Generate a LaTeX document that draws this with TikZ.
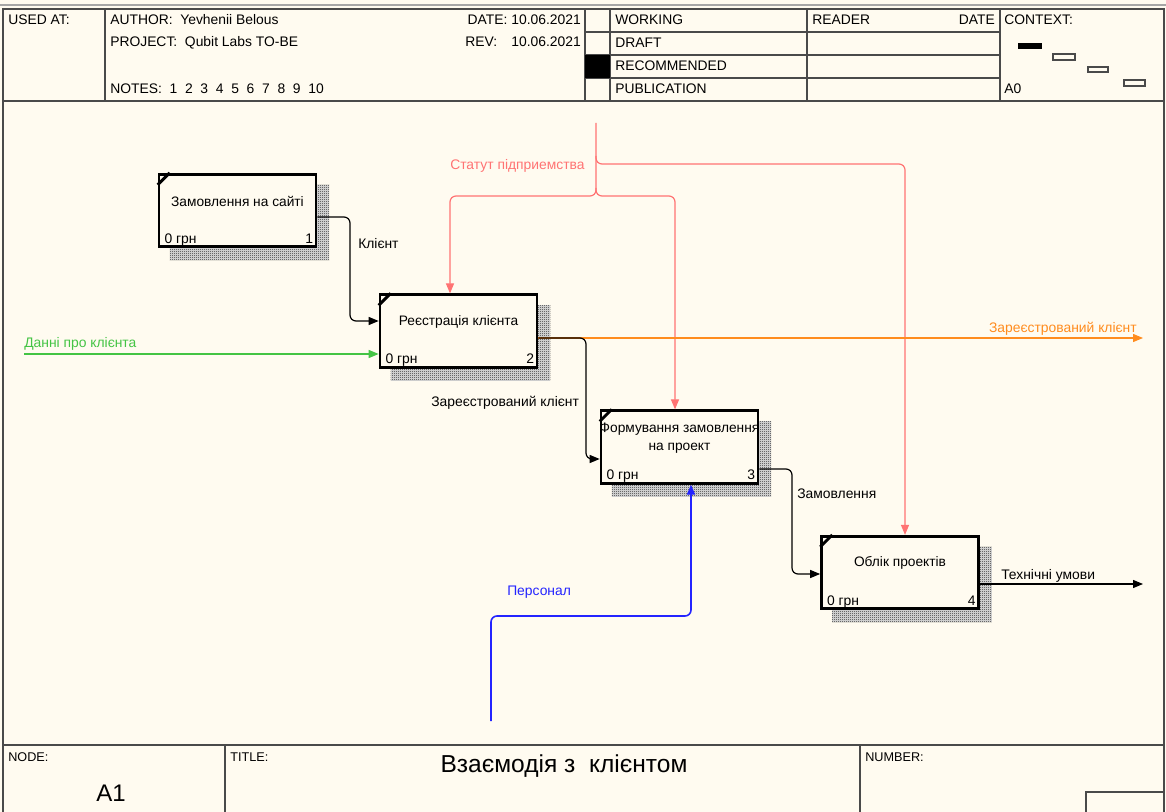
\documentclass[tikz,border=0pt]{standalone}
\usepackage{fontspec}
\setmainfont{Liberation Sans}
\usetikzlibrary{arrows.meta,patterns.meta}
\definecolor{bgc}{HTML}{FFFBF0}
\definecolor{frm}{HTML}{4A4A4A}
\definecolor{pinkc}{HTML}{FF7373}
\definecolor{bluec}{HTML}{2424FF}
\definecolor{greenc}{HTML}{44C444}
\definecolor{orangec}{HTML}{FF8C1E}
\pgfdeclarelayer{back}
\pgfdeclarelayer{shade}
\pgfsetlayers{back,shade,main}
\tikzdeclarepattern{
  name=checker,
  type=uncolored,
  bottom left={(0pt,0pt)},
  top right={(1.5pt,1.5pt)},
  tile size={(1.5pt,1.5pt)},
  code={
    \pgfpathrectangle{\pgfpointorigin}{\pgfqpoint{0.75pt}{0.75pt}}
    \pgfpathrectangle{\pgfqpoint{0.75pt}{0.75pt}}{\pgfqpoint{0.75pt}{0.75pt}}
    \pgfusepath{fill}
  }
}
\begin{document}
\begin{tikzpicture}[x=0.75pt,y=-0.75pt,
  hdr/.style={font=\fontsize{10.4}{12}\selectfont, inner sep=0, anchor=base west},
  lbl/.style={font=\fontsize{10.4}{12}\selectfont, inner sep=0, anchor=base west},
  fn/.style={draw=frm, line width=0.9pt},
  abox/.style={draw=black, line width=2pt, fill=bgc, minimum width=117.75pt, minimum height=54.4pt, inner sep=0},
  btxt/.style={font=\fontsize{10.3}{13.5}\selectfont, align=center, inner sep=0},
  arr/.style={line width=0.9pt, -{Triangle[length=7.5pt,width=6pt]}, rounded corners=4.5pt},
]
\useasboundingbox (0,0) rectangle (1166,812);
\begin{pgfonlayer}{back}
\fill[bgc] (0,0) rectangle (1166,812);
\end{pgfonlayer}

% ---------- frame ----------
\draw[gray!70, line width=1.8pt] (0,5) -- (1166,5);
\draw[frm, line width=1.4pt] (3,9) rectangle (1164,815);
\draw[fn] (3,101) -- (1164,101);
\foreach \xx in {105,585,610,807,1000} \draw[fn] (\xx,9) -- (\xx,101);
\foreach \yy in {32,55,78} \draw[fn] (585,\yy) -- (1000,\yy);
\fill[black] (585,55) rectangle (610,78);
\draw[fn] (3,745) -- (1164,745);
\draw[fn] (225,745) -- (225,812);
\draw[fn] (860,745) -- (860,812);
\draw[fn] (1086,812) -- (1086,792) -- (1164,792);

% context marks
\fill[black] (1018,43) rectangle (1042,49);
\draw[frm, line width=0.8pt] (1053,54) rectangle (1075,60);
\draw[frm, line width=0.8pt] (1088,67) rectangle (1108,72);
\draw[frm, line width=0.8pt] (1124,80) rectangle (1145,86);

% header texts
\node[hdr] (usedat) at (8,25) {USED AT:};
\node[hdr] (author) at (110,25) {AUTHOR:\ \ Yevhenii Belous};
\node[hdr] (project) at (110,47) {PROJECT:\ \ Qubit Labs TO-BE};
\node[hdr] (notes) at (110,94) {NOTES:\ \ 1\ \ 2\ \ 3\ \ 4\ \ 5\ \ 6\ \ 7\ \ 8\ \ 9\ \ 10};
\node[hdr, anchor=base east] (date) at (581,25) {DATE:\ 10.06.2021};
\node[hdr] (rev) at (465,47) {REV:};
\node[hdr, anchor=base east] (revd) at (581,47) {10.06.2021};
\node[hdr] (working) at (615,25) {WORKING};
\node[hdr] (draft) at (615,48) {DRAFT};
\node[hdr] (recom) at (615,71) {RECOMMENDED};
\node[hdr] (publ) at (615,94) {PUBLICATION};
\node[hdr] (reader) at (812,25) {READER};
\node[hdr, anchor=base east] (rdate) at (995,25) {DATE};
\node[hdr] (context) at (1004,25) {CONTEXT:};
\node[hdr] (a0) at (1004,94) {A0};

% footer texts
\node[hdr, font=\fontsize{9.5}{11}\selectfont] (nodelbl) at (8,761) {NODE:};
\node[hdr, font=\fontsize{9.5}{11}\selectfont] (titlelbl) at (230,761) {TITLE:};
\node[hdr, font=\fontsize{9.5}{11}\selectfont] (numlbl) at (865,761) {NUMBER:};
\node[inner sep=0, anchor=base, font=\fontsize{18}{20}\selectfont] (a1) at (111,801) {A1};
\node[inner sep=0, anchor=base, font=\fontsize{18.4}{20}\selectfont] (title) at (564,772) {Взаємодія з\ \ клієнтом};

% ---------- activity boxes ----------
\node[abox] (b1) at (237.5,210.5) {};
\node[abox] (b2) at (458.5,331) {};
\node[abox] (b3) at (679.5,447) {};
\node[abox] (b4) at (900,572.5) {};

\begin{pgfonlayer}{shade}
\foreach \b in {b1,b2,b3,b4}{
  \fill[gray!20] ([shift={(9pt,-9pt)}]\b.north west) rectangle ([shift={(9pt,-9pt)}]\b.south east);
  \fill[pattern=checker, pattern color=black!85] ([shift={(9pt,-9pt)}]\b.north west) rectangle ([shift={(9pt,-9pt)}]\b.south east);
}
\end{pgfonlayer}

\foreach \b in {b1,b2,b3,b4}
  \draw[line width=2.2pt] ([xshift=9pt]\b.north west) -- ([yshift=-9pt]\b.north west);

\node[btxt] (t1) at ([yshift=7pt]b1.center) {Замовлення на сайті};
\node[btxt] (t2) at ([yshift=7pt]b2.center) {Реєстрація клієнта};
\node[btxt] (t3) at ([yshift=6.75pt]b3.center) {Формування замовлення\\на проект};
\node[btxt] (t4) at ([yshift=7pt]b4.center) {Облік проектів};

\foreach \b/\n in {b1/1,b2/2,b3/3,b4/4}{
  \node[lbl] (\b c) at ([xshift=5pt,yshift=3.75pt]\b.south west) {0 грн};
  \node[lbl, anchor=base east] (\b n) at ([xshift=-3pt,yshift=3.75pt]\b.south east) {\n};
}

% ---------- connectors ----------
\coordinate (st0) at (596,123);
\coordinate (dan0) at (24,354);
\coordinate (zk) at (1143,338);
\coordinate (tu) at (1143,584);
\coordinate (pers0) at (491,721);

% Статут
\draw[pinkc, arr] (st0) -- (596,196) -- (450,196) -- (450,0 |- b2.north);
\draw[pinkc, arr] (596,188) -- (596,196) -- (675,196) -- (675,0 |- b3.north);
\draw[pinkc, arr] (596,156) -- (596,164) -- (905,164) -- (905,0 |- b4.north);
\node[lbl, text=pinkc] (stlbl) at (450,169.5) {Статут підприемства};

% Клієнт
\draw[arr] (b1.east |- 0,217) -- (350,217) -- (350,321) -- (b2.west |- 0,321);
\node[lbl] (klbl) at (358,248.5) {Клієнт};

% Данні про клієнта
\draw[greenc, arr] (dan0) -- (b2.west |- 0,354);
\node[lbl, text=greenc] (dlbl) at (24,348) {Данні про клієнта};

% Зареєстрований клієнт (output)
\draw[orangec, arr] (b2.east |- 0,338) -- (zk);
\node[lbl, text=orangec, anchor=base east] (zklbl) at (1137,332.5) {Зареєстрований клієнт};

% Зареєстрований клієнт (to box 3)
\draw[arr] (b2.east |- 0,338) -- (586,338) -- (586,459) -- (b3.west |- 0,459);
\node[lbl] (zk2lbl) at (431,406.5) {Зареєстрований клієнт};

% Замовлення
\draw[arr] (b3.east |- 0,469) -- (792,469) -- (792,574) -- (b4.west |- 0,574);
\node[lbl] (zmlbl) at (797,498.5) {Замовлення};

% Технічні умови
\draw[arr] (b4.east |- 0,584) -- (tu);
\node[lbl] (tulbl) at (1001,579.5) {Технічні умови};

% Персонал
\draw[bluec, arr, line width=1.2pt] (pers0) -- (491,616) -- (691,616) -- (691,0 |- b3.south);
\node[lbl, text=bluec] (plbl) at (507,595.5) {Персонал};

\end{tikzpicture}
\end{document}
